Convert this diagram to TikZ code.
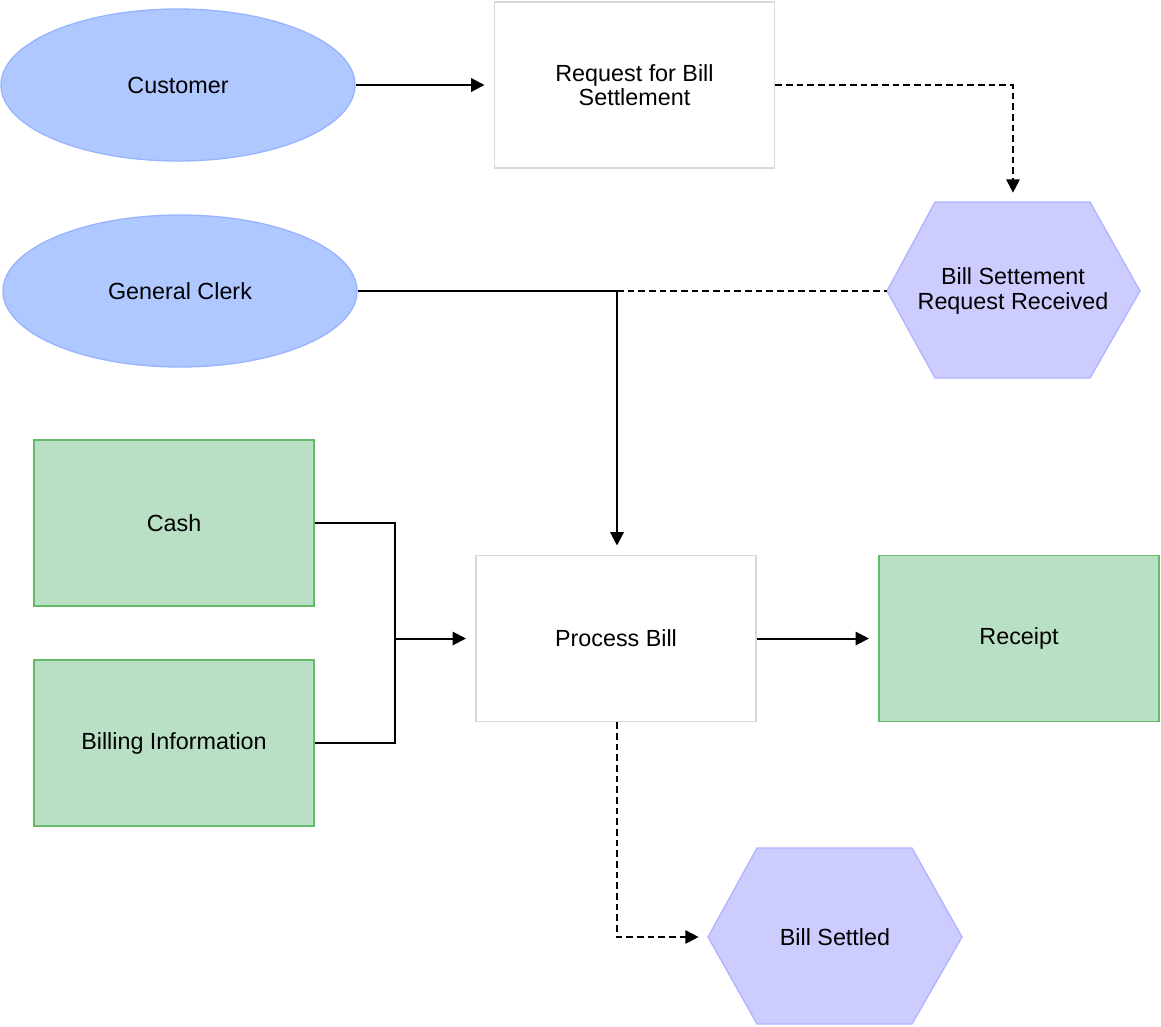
\documentclass[tikz,border=0pt]{standalone}
\usepackage{fontspec}
\setmainfont{Liberation Sans}
\usetikzlibrary{shapes.geometric,arrows.meta}
\definecolor{ellf}{HTML}{AFC8FF}
\definecolor{elld}{HTML}{99B4FF}
\definecolor{hexf}{HTML}{CCCCFF}
\definecolor{hexd}{HTML}{B3B3FF}
\definecolor{grnf}{HTML}{B9E0C5}
\definecolor{grnd}{HTML}{66BB6A}
\definecolor{boxd}{HTML}{D9D9D9}
\begin{document}
\begin{tikzpicture}[x=0.75pt,y=-0.75pt,
  every node/.style={font=\fontsize{17.5}{18.5}\selectfont, align=center, inner sep=0pt},
  actor/.style={ellipse, draw=elld, fill=ellf, line width=1pt, minimum width=265.5pt, minimum height=114pt},
  func/.style={rectangle, draw=boxd, fill=white, line width=1pt, minimum width=210pt, minimum height=124.5pt},
  info/.style={rectangle, draw=grnd, fill=grnf, line width=1pt, minimum width=210pt, minimum height=124.5pt},
  hex/.style={draw=hexd, fill=hexf, line width=1pt},
  conn/.style={line width=1.5pt, -{Triangle[length=10pt,width=10pt]}},
  line/.style={line width=1.5pt},
  dconn/.style={conn, dashed, dash pattern=on 5pt off 3pt},
  dline/.style={line, dashed, dash pattern=on 5pt off 3pt}]
\useasboundingbox (0,0) rectangle (1161,1026);
\node[actor] (cust) at (178,85) {Customer};
\node[func] (req) at (634.5,85) {Request for Bill\\Settlement};
\node[actor] (clerk) at (180,291) {General Clerk};
\node[info] (cash) at (174,523) {Cash};
\node[info] (bill) at (174,743) {Billing Information};
\node[func] (proc) at (616,638.5) {Process Bill};
\node[info] (rec) at (1019,638.5) {Receipt};
\draw[hex] (887,291) -- (935,202) -- (1090,202) -- (1140,291) -- (1090,378) -- (935,378) -- cycle;
\node (ev1) at (1013,291) {Bill Settement\\Request Received};
\coordinate (ev1top) at (1013,202);
\coordinate (ev1left) at (887,291);
\draw[hex] (708,937) -- (757,848) -- (912,848) -- (962,937) -- (912,1024) -- (757,1024) -- cycle;
\node (ev2) at (835,937) {Bill Settled};
\coordinate (ev2left) at (708,937);
\coordinate (j1) at (617,291);
\coordinate (j2) at (395,638.5);
\draw[conn, shorten >=7pt] (cust.east) -- (req.west);
\draw[dconn, shorten >=7pt] (req.east) -| (ev1top);
\draw[line] (clerk.east) -- (j1);
\draw[dline] (j1) -- (ev1left);
\draw[conn, shorten >=7pt] (j1) -- (j1 |- proc.north);
\draw[line] (cash.east) -| (j2);
\draw[line] (bill.east) -| (j2);
\draw[conn, shorten >=7pt] (j2) -- (proc.west);
\draw[conn, shorten >=7pt] (proc.east) -- (rec.west);
\draw[dconn, shorten >=7pt] (proc.south -| j1) |- (ev2left);
\end{tikzpicture}
\end{document}
